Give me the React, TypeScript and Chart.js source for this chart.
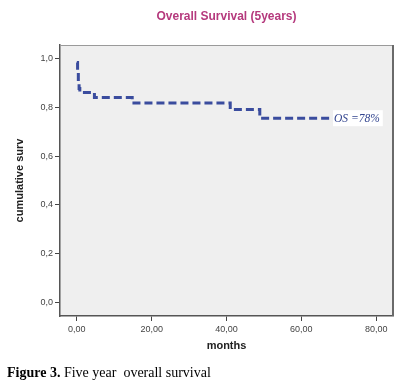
import React, { useEffect, useRef } from 'react';
import { Chart, registerables } from 'chart.js';
Chart.register(...registerables);

// Kaplan-Meier step points (months, cumulative survival)
const months = [0, 0.2, 0.4, 0.6, 0.8, 4.7, 14.8, 41.0, 48.9, 68.2];
const survival = [0.985, 0.945, 0.908, 0.878, 0.862, 0.841, 0.819, 0.792, 0.756, 0.756];

const xTickValues = [0, 20, 40, 60, 80];
const xTickLabels = ['0,00', '20,00', '40,00', '60,00', '80,00'];
const yTickValues = [0, 0.2, 0.4, 0.6, 0.8, 1.0];
const yTickLabels = ['0,0', '0,2', '0,4', '0,6', '0,8', '1,0'];

const chartTitle = 'Overall Survival (5years)';
const xAxisTitle = 'months';
const yAxisTitle = 'cumulative surv';
const endLabel = 'OS =78%';

const LINE_COLOR = '#3a4c9e';

export default function App() {
  const ref = useRef<HTMLCanvasElement | null>(null);

  useEffect(() => {
    document.body.style.margin = '0';
    const canvas = ref.current;
    if (!canvas) return;

    const framePlugin = {
      id: 'frame',
      beforeDraw(chart: any) {
        const { ctx, chartArea: a } = chart;
        ctx.save();
        ctx.fillStyle = '#efefef';
        ctx.fillRect(a.left, a.top, a.right - a.left, a.bottom - a.top);
        ctx.restore();
      },
      afterDraw(chart: any) {
        const { ctx, chartArea: a } = chart;
        ctx.save();
        ctx.strokeStyle = '#9a9a9a';
        ctx.lineWidth = 1;
        ctx.beginPath();
        ctx.moveTo(a.left, a.top + 0.5);
        ctx.lineTo(a.right, a.top + 0.5);
        ctx.stroke();
        ctx.strokeStyle = '#6a6a6a';
        ctx.lineWidth = 2;
        ctx.beginPath();
        ctx.moveTo(a.right, a.top);
        ctx.lineTo(a.right, a.bottom);
        ctx.stroke();
        // title
        ctx.font = 'bold 12px "Liberation Sans", Arial, sans-serif';
        ctx.fillStyle = '#b5397d';
        ctx.textAlign = 'center';
        ctx.textBaseline = 'middle';
        ctx.fillText(chartTitle, (a.left + a.right) / 2, 17);
        ctx.restore();
      },
      afterDatasetsDraw(chart: any) {
        const { ctx } = chart;
        const meta = chart.getDatasetMeta(0);
        const last = meta.data[meta.data.length - 1];
        if (!last) return;
        ctx.save();
        ctx.font = 'italic 11.5px "Liberation Serif", "Times New Roman", serif';
        const w = ctx.measureText(endLabel).width;
        ctx.fillStyle = '#ffffff';
        ctx.fillRect(last.x + 1, last.y - 8, w + 4, 16);
        ctx.fillStyle = '#33458f';
        ctx.textAlign = 'left';
        ctx.textBaseline = 'middle';
        ctx.fillText(endLabel, last.x + 2, last.y + 1);
        ctx.restore();
      },
    };

    const tickFont = { family: '"Liberation Sans", Arial, sans-serif', size: 9 };
    const titleFont = { family: '"Liberation Sans", Arial, sans-serif', size: 11, weight: 'bold' as const };

    const chart = new Chart(canvas, {
      type: 'line',
      data: {
        datasets: [
          {
            data: months.map((m, i) => ({ x: m, y: survival[i] })),
            borderColor: LINE_COLOR,
            borderWidth: 3,
            borderDash: [8, 4],
            pointRadius: 0,
            stepped: 'before',
            fill: false,
          },
        ],
      },
      options: {
        animation: false,
        responsive: false,
        devicePixelRatio: 1,
        layout: { padding: { left: 0, right: 18, top: 45, bottom: 0 } },
        plugins: {
          legend: { display: false },
          tooltip: { enabled: false },
          title: { display: false },
        },
        scales: {
          x: {
            type: 'linear',
            min: -4.5,
            max: 84.5,
            afterBuildTicks: (s: any) => {
              s.ticks = xTickValues.map((v) => ({ value: v }));
            },
            afterFit: (s: any) => {
              s.height = 68;
            },
            ticks: {
              callback: (v: any) => {
                const i = xTickValues.indexOf(Number(v));
                return i >= 0 ? xTickLabels[i] : '';
              },
              font: tickFont,
              color: '#444',
              padding: 3,
              maxRotation: 0,
              autoSkip: false,
            },
            grid: {
              display: true,
              drawOnChartArea: false,
              drawTicks: true,
              tickLength: 5,
              color: '#444',
              lineWidth: 1,
            },
            border: { display: true, color: '#555', width: 1.5 },
            title: {
              display: true,
              text: xAxisTitle,
              font: titleFont,
              color: '#222',
              padding: { top: 0, bottom: 31.4 },
            },
          },
          y: {
            type: 'linear',
            min: -0.057,
            max: 1.057,
            afterBuildTicks: (s: any) => {
              s.ticks = yTickValues.map((v) => ({ value: v }));
            },
            afterFit: (s: any) => {
              s.width = 60;
            },
            ticks: {
              callback: (v: any) => {
                const i = yTickValues.findIndex((t) => Math.abs(t - Number(v)) < 1e-6);
                return i >= 0 ? yTickLabels[i] : '';
              },
              font: tickFont,
              color: '#444',
              padding: 2,
              autoSkip: false,
            },
            grid: {
              display: true,
              drawOnChartArea: false,
              drawTicks: true,
              tickLength: 5,
              color: '#444',
              lineWidth: 1,
            },
            border: { display: true, color: '#555', width: 1.5 },
            title: {
              display: true,
              text: yAxisTitle,
              font: titleFont,
              color: '#222',
              padding: { top: 13.4, bottom: 0 },
            },
          },
        },
      },
      plugins: [framePlugin],
    });

    return () => chart.destroy();
  }, []);

  return (
    <div style={{ position: 'relative', width: 411, height: 384, background: '#fff' }}>
      <canvas ref={ref} width={411} height={384} style={{ position: 'absolute', left: 0, top: 0 }} />
      <div
        style={{
          position: 'absolute',
          left: 7,
          top: 365,
          fontFamily: '"Liberation Serif", "Times New Roman", serif',
          fontSize: 14,
          lineHeight: '15px',
          color: '#000',
          whiteSpace: 'pre',
        }}
      >
        <b>Figure 3.</b>
        {' Five year  overall survival'}
      </div>
    </div>
  );
}
